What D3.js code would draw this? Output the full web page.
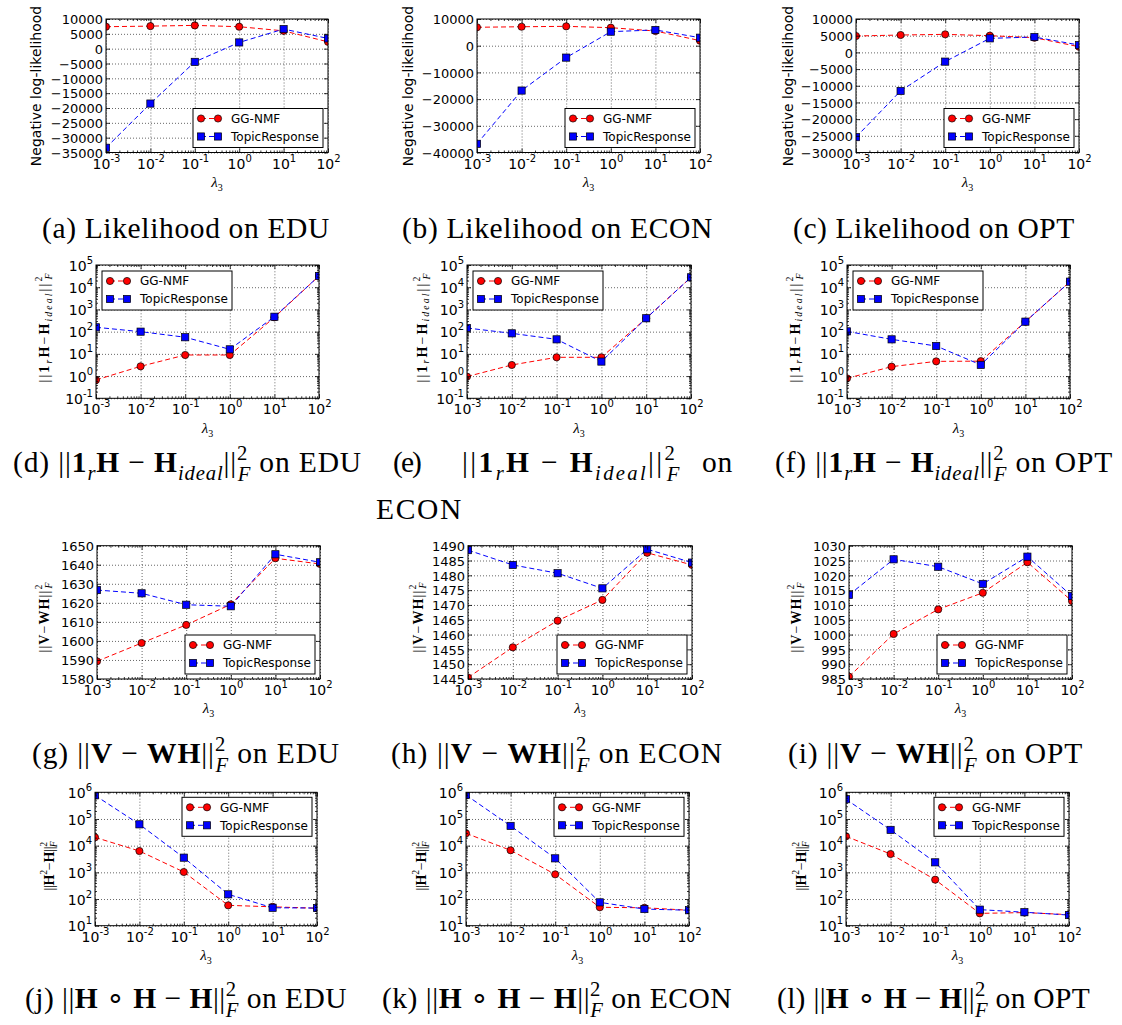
<!DOCTYPE html>
<html><head><meta charset="utf-8">
<script src="https://cdn.jsdelivr.net/npm/d3@7"></script>
<style>body{margin:0;background:#fff}svg{display:block}text{white-space:pre}</style>
</head><body>
<svg id="fig" width="1122" height="1025"></svg>
<script>
// ---------------- DATA ----------------
const lambdas = [0.001, 0.01, 0.1, 1, 10, 100];
const xTickExps = [-3, -2, -1, 0, 1, 2];
const seriesNames = ["GG-NMF", "TopicResponse"];

// Negative log-likelihood
const likeEDU_GG  = [7400, 7600, 7850, 7400, 6000, 2300];
const likeEDU_TR  = [-33400, -18500, -4450, 2100, 6600, 3450];
const likeECON_GG = [6900, 7100, 7250, 6750, 5500, 1900];
const likeECON_TR = [-36750, -16800, -4460, 5260, 5900, 3000];
const likeOPT_GG  = [4900, 5200, 5400, 5000, 4400, 1700];
const likeOPT_TR  = [-25400, -11550, -2770, 4200, 4600, 2200];

// ||1_r H - H_ideal||_F^2
const idealEDU_GG  = [0.67, 2.75, 8.9, 8.9, 440, 32000];
const idealEDU_TR  = [157, 100, 56, 16, 470, 32000];
const idealECON_GG = [0.95, 3.16, 7, 7, 400, 27900];
const idealECON_TR = [146, 84, 45, 4.5, 400, 27900];
const idealOPT_GG  = [0.79, 2.66, 4.6, 4.7, 282, 17800];
const idealOPT_TR  = [103, 45, 22.6, 3.2, 282, 17800];

// ||V - WH||_F^2
const vwhEDU_GG  = [1589.3, 1598.9, 1608.4, 1619.2, 1643.4, 1640.4];
const vwhEDU_TR  = [1626.7, 1625.0, 1619.0, 1618.2, 1645.5, 1641.3];
const vwhECON_GG = [1445.5, 1455.7, 1464.7, 1471.7, 1487.6, 1483.5];
const vwhECON_TR = [1488.5, 1483.5, 1480.7, 1475.6, 1488.8, 1484.3];
const vwhOPT_GG  = [985.8, 1000.2, 1008.5, 1014.1, 1024.4, 1011.3];
const vwhOPT_TR  = [1013.4, 1025.4, 1022.9, 1017.1, 1026.3, 1013.0];

// ||H o H - H||_F^2
const hhEDU_GG  = [20500, 6300, 1030, 58, 51, 45];
const hhEDU_TR  = [770000, 63000, 3550, 150, 47, 46];
const hhECON_GG = [29000, 6700, 840, 49, 47, 38];
const hhECON_TR = [790000, 55000, 3350, 75, 42, 38];
const hhOPT_GG  = [22400, 4850, 530, 29, 31, 26];
const hhOPT_TR  = [550000, 39000, 2370, 40, 32, 25];

// y tick labels
const likeEDU_yTicks  = [-35000, -30000, -25000, -20000, -15000, -10000, -5000, 0, 5000, 10000];
const likeECON_yTicks = [-40000, -30000, -20000, -10000, 0, 10000];
const likeOPT_yTicks  = [-30000, -25000, -20000, -15000, -10000, -5000, 0, 5000, 10000];
const ideal_yExps     = [-1, 0, 1, 2, 3, 4, 5];
const vwhEDU_yTicks   = [1580, 1590, 1600, 1610, 1620, 1630, 1640, 1650];
const vwhECON_yTicks  = [1445, 1450, 1455, 1460, 1465, 1470, 1475, 1480, 1485, 1490];
const vwhOPT_yTicks   = [985, 990, 995, 1000, 1005, 1010, 1015, 1020, 1025, 1030];
const hh_yExps        = [1, 2, 3, 4, 5, 6];

// math text pieces
const idealExpr = [["||","n"],["1","b"],["r","sub"],["H","b"],[" \u2212 ","n"],["H","b"],["ideal","sub"],["||","n"],["2","sup"],["F","stack"]];
const vwhExpr   = [["||","n"],["V","b"],[" \u2212 ","n"],["W","b"],["H","b"],["||","n"],["2","sup"],["F","stack"]];
const hhExpr    = [["||","n"],["H","b"],[" \u2218 ","n"],["H","b"],[" \u2212 ","n"],["H","b"],["||","n"],["2","sup"],["F","stack"]];
const idealY = [["||","n"],["1","b"],["r","sub"],["H","b"],["\u2212","n"],["H","b"],["ideal","sub"],["||","n"],["2","sup"],["F","stack"]];
const vwhY   = [["||","n"],["V","b"],["\u2212","n"],["W","b"],["H","b"],["||","n"],["2","sup"],["F","stack"]];
const hhY    = [["||","n"],["H","b"],["2","sup"],["\u2212","n"],["H","b"],["||","n"],["2","sup"],["F","stack"]];

// ---------------- STYLE / LAYOUT ----------------
const SANS = "'DejaVu Sans', sans-serif";
const SERIF = "'Liberation Serif', 'Times New Roman', serif";
const svg = d3.select('#fig');

function renderMath(t, segs, fs) {
  let level = 0;
  segs.forEach(([s, k]) => {
    const ts = t.append('tspan').text(s);
    let target = 0, size = fs, dx = 0;
    if (k === 'b') ts.attr('font-weight', 'bold');
    else if (k === 'i') ts.attr('font-style', 'italic');
    else if (k === 'sub') { target = 0.28 * fs; size = 0.7 * fs; ts.attr('font-style', 'italic'); }
    else if (k === 'sup') { target = -0.42 * fs; size = 0.7 * fs; }
    else if (k === 'stack') { target = 0.32 * fs; size = 0.7 * fs; dx = -0.36 * fs; ts.attr('font-style', 'italic'); }
    ts.attr('font-size', size);
    if (target - level !== 0) ts.attr('dy', target - level);
    if (dx) ts.attr('dx', dx);
    level = target;
  });
}
function fitWidth(t, target) {
  const n = t.text().length;
  const w = t.node().getBBox().width;
  t.attr('letter-spacing', (target - w) / n);
}

const panels = [
  {id:'a', x0:106, x1:328, y0:19, y1:152.5, log:false, domain:[-35000,10000], yTicks:likeEDU_yTicks, gg:likeEDU_GG, tr:likeEDU_TR, yl:'nll', ylx:36, yly:86, leg:'lr'},
  {id:'b', x0:477, x1:700, y0:19, y1:152.5, log:false, domain:[-40000,10000], yTicks:likeECON_yTicks, gg:likeECON_GG, tr:likeECON_TR, yl:'nll', ylx:407.5, yly:86, leg:'lr'},
  {id:'c', x0:856, x1:1079, y0:19, y1:152.5, log:false, domain:[-30000,10000], yTicks:likeOPT_yTicks, gg:likeOPT_GG, tr:likeOPT_TR, yl:'nll', ylx:787.5, yly:86, leg:'lr'},
  {id:'d', x0:96, x1:319, y0:265, y1:398.3, log:true, domain:[0.1,1e5], yExps:ideal_yExps, gg:idealEDU_GG, tr:idealEDU_TR, yl:idealY, ylLen:112, ylx:44, yly:327, leg:'ul'},
  {id:'e', x0:467, x1:691, y0:265, y1:398.3, log:true, domain:[0.1,1e5], yExps:ideal_yExps, gg:idealECON_GG, tr:idealECON_TR, yl:idealY, ylLen:112, ylx:421.5, yly:327, leg:'ul'},
  {id:'f', x0:847, x1:1070, y0:265, y1:398.3, log:true, domain:[0.1,1e5], yExps:ideal_yExps, gg:idealOPT_GG, tr:idealOPT_TR, yl:idealY, ylLen:112, ylx:794.5, yly:327, leg:'ul'},
  {id:'g', x0:97, x1:320, y0:545.7, y1:679, log:false, domain:[1580,1650], yTicks:vwhEDU_yTicks, gg:vwhEDU_GG, tr:vwhEDU_TR, yl:vwhY, ylLen:72, ylx:44, yly:617, leg:'lr'},
  {id:'h', x0:468, x1:692, y0:545.7, y1:679, log:false, domain:[1445,1490], yTicks:vwhECON_yTicks, gg:vwhECON_GG, tr:vwhECON_TR, yl:vwhY, ylLen:72, ylx:417.5, yly:617, leg:'lr'},
  {id:'i', x0:849, x1:1072, y0:545.7, y1:679, log:false, domain:[985,1030], yTicks:vwhOPT_yTicks, gg:vwhOPT_GG, tr:vwhOPT_TR, yl:vwhY, ylLen:72, ylx:796, yly:617, leg:'lr'},
  {id:'j', x0:95, x1:317, y0:792.3, y1:925.7, log:true, domain:[10,1e6], yExps:hh_yExps, gg:hhEDU_GG, tr:hhEDU_TR, yl:hhY, ylLen:50, ylx:49, yly:866, leg:'ur'},
  {id:'k', x0:466, x1:689, y0:792.3, y1:925.7, log:true, domain:[10,1e6], yExps:hh_yExps, gg:hhECON_GG, tr:hhECON_TR, yl:hhY, ylLen:50, ylx:421, yly:866, leg:'ur'},
  {id:'l', x0:846, x1:1069, y0:792.3, y1:925.7, log:true, domain:[10,1e6], yExps:hh_yExps, gg:hhOPT_GG, tr:hhOPT_TR, yl:hhY, ylLen:50, ylx:801, yly:866, leg:'ur'}
];

const captions = [
  {x:42, y:238, w:288, segs:[["(a) Likelihood on EDU","n"]]},
  {x:402, y:238, w:311, segs:[["(b) Likelihood on ECON","n"]]},
  {x:793, y:238, w:282, segs:[["(c) Likelihood on OPT","n"]]},
  {x:13, y:472, w:349, segs:[["(d) ","n"], ...idealExpr, [" on EDU","n"]]},
  {x:393, y:472, w:27, segs:[["(e)","n"]]},
  {x:462, y:472, w:220, segs:idealExpr},
  {x:702, y:472, w:31, segs:[["on","n"]]},
  {x:376, y:519, w:87, segs:[["ECON","n"]]},
  {x:775, y:472, w:338, segs:[["(f) ","n"], ...idealExpr, [" on OPT","n"]]},
  {x:32, y:763, w:308, segs:[["(g) ","n"], ...vwhExpr, [" on EDU","n"]]},
  {x:391, y:763, w:332, segs:[["(h) ","n"], ...vwhExpr, [" on ECON","n"]]},
  {x:788, y:763, w:295, segs:[["(i) ","n"], ...vwhExpr, [" on OPT","n"]]},
  {x:25, y:1008, w:322, segs:[["(j) ","n"], ...hhExpr, [" on EDU","n"]]},
  {x:382, y:1008, w:350, segs:[["(k) ","n"], ...hhExpr, [" on ECON","n"]]},
  {x:777, y:1008, w:313, segs:[["(l) ","n"], ...hhExpr, [" on OPT","n"]]}
];

// ---------------- DRAW ----------------
function marker(sel, kind, color) {
  if (kind === 'circle') {
    sel.append('circle').attr('r', 3.6).attr('fill', color).attr('stroke', '#000').attr('stroke-width', 0.7);
  } else {
    sel.append('rect').attr('x', -3.6).attr('y', -3.6).attr('width', 7.2).attr('height', 7.2)
      .attr('fill', color).attr('stroke', '#000').attr('stroke-width', 0.7);
  }
}

function drawPanel(p) {
  const W = p.x1 - p.x0, H = p.y1 - p.y0;
  const g = svg.append('g').attr('transform', `translate(${p.x0},${p.y0})`);
  const x = d3.scaleLog().domain([1e-3, 1e2]).range([0, W]);
  const y = (p.log ? d3.scaleLog() : d3.scaleLinear()).domain(p.domain).range([H, 0]);
  const xTickVals = xTickExps.map(e => Math.pow(10, e));
  const yTickVals = p.log ? p.yExps.map(e => Math.pow(10, e)) : p.yTicks;
  const xMinor = [];
  for (let e = -3; e < 2; e++) for (let k = 2; k < 10; k++) xMinor.push(k * Math.pow(10, e));
  const yMinor = [];
  if (p.log) for (let e = p.yExps[0]; e < p.yExps[p.yExps.length - 1]; e++) for (let k = 2; k < 10; k++) yMinor.push(k * Math.pow(10, e));

  const clean = s => { s.select('.domain').remove(); s.attr('font-family', null).attr('font-size', null); };

  // grid
  g.append('g').attr('transform', `translate(0,${H})`)
    .call(d3.axisBottom(x).tickValues(xTickVals).tickSize(-H).tickFormat(''))
    .call(clean).selectAll('line').attr('stroke', '#000').attr('stroke-width', 0.6).attr('stroke-dasharray', '1,2');
  g.append('g')
    .call(d3.axisLeft(y).tickValues(yTickVals).tickSize(-W).tickFormat(''))
    .call(clean).selectAll('line').attr('stroke', '#000').attr('stroke-width', 0.6).attr('stroke-dasharray', '1,2');

  // series
  const clipId = 'clip-' + p.id;
  g.append('clipPath').attr('id', clipId).append('rect').attr('width', W).attr('height', H);
  const cg = g.append('g').attr('clip-path', `url(#${clipId})`);
  const series = [
    {vals: p.gg, color: '#ff0000', kind: 'circle'},
    {vals: p.tr, color: '#0000ff', kind: 'square'}
  ];
  const line = d3.line().x((d, i) => x(lambdas[i])).y(d => y(d));
  series.forEach(s => {
    cg.append('path').datum(s.vals).attr('d', line).attr('fill', 'none')
      .attr('stroke', s.color).attr('stroke-width', 1).attr('stroke-dasharray', '5,3');
    cg.selectAll(null).data(s.vals).enter().append('g')
      .attr('transform', (d, i) => `translate(${x(lambdas[i])},${y(d)})`)
      .each(function () { marker(d3.select(this), s.kind, s.color); });
  });

  // ticks (inward, all four sides)
  const tickStyle = s => s.selectAll('line').attr('stroke', '#000').attr('stroke-width', 0.8);
  const bottom = g.append('g').attr('transform', `translate(0,${H})`)
    .call(d3.axisBottom(x).tickValues(xTickVals).tickSize(-4).tickPadding(0)).call(clean).call(tickStyle);
  g.append('g').attr('transform', `translate(0,${H})`)
    .call(d3.axisBottom(x).tickValues(xMinor).tickSize(-2).tickFormat('')).call(clean).call(tickStyle);
  g.append('g').call(d3.axisTop(x).tickValues(xTickVals).tickSize(-4).tickFormat('')).call(clean).call(tickStyle);
  g.append('g').call(d3.axisTop(x).tickValues(xMinor).tickSize(-2).tickFormat('')).call(clean).call(tickStyle);
  const left = g.append('g')
    .call(d3.axisLeft(y).tickValues(yTickVals).tickSize(-4).tickPadding(3)
      .tickFormat(d => d < 0 ? '\u2212' + (-d) : String(d))).call(clean).call(tickStyle);
  g.append('g').attr('transform', `translate(${W},0)`)
    .call(d3.axisRight(y).tickValues(yTickVals).tickSize(-4).tickFormat('')).call(clean).call(tickStyle);
  if (p.log) {
    g.append('g').call(d3.axisLeft(y).tickValues(yMinor).tickSize(-2).tickFormat('')).call(clean).call(tickStyle);
    g.append('g').attr('transform', `translate(${W},0)`)
      .call(d3.axisRight(y).tickValues(yMinor).tickSize(-2).tickFormat('')).call(clean).call(tickStyle);
  }

  // x tick labels 10^e
  bottom.selectAll('.tick text').each(function (d) {
    const e = Math.round(Math.log10(d));
    const t = d3.select(this);
    t.text(null).attr('y', 16).attr('dy', null).attr('fill', '#000')
      .attr('font-family', SANS).attr('font-size', 14).attr('text-anchor', 'middle');
    t.append('tspan').text('10');
    t.append('tspan').text(String(e)).attr('font-size', 10).attr('dy', -7);
  });
  // y tick labels
  left.selectAll('.tick text').each(function (d) {
    const t = d3.select(this).attr('fill', '#000').attr('font-family', SANS).attr('text-anchor', 'end');
    if (p.log) {
      const e = Math.round(Math.log10(d));
      t.text(null).attr('font-size', 14).attr('dy', '0.36em').attr('x', -3);
      t.append('tspan').text('10');
      t.append('tspan').text(String(e)).attr('font-size', 10).attr('dy', -7);
    } else {
      t.attr('font-size', 13).attr('dy', '0.36em');
    }
  });

  // frame
  g.append('rect').attr('width', W).attr('height', H).attr('fill', 'none').attr('stroke', '#000').attr('stroke-width', 1);

  // x label
  const xl = g.append('text').attr('x', W / 2).attr('y', H + 34.5).attr('text-anchor', 'middle')
    .attr('font-family', SERIF).attr('font-size', 15);
  xl.append('tspan').text('\u03bb').attr('font-style', 'italic');
  xl.append('tspan').text('3').attr('font-size', 10).attr('dy', 4);

  // y label
  const yl = svg.append('text').attr('transform', `translate(${p.ylx},${p.yly}) rotate(-90)`)
    .attr('text-anchor', 'middle').attr('dominant-baseline', 'central');
  if (p.yl === 'nll') {
    yl.attr('font-family', SANS).attr('font-size', 14).text('Negative log-likelihood');
  } else {
    yl.attr('font-family', SERIF).attr('font-size', 14);
    renderMath(yl, p.yl, 14);
    if (p.ylLen) fitWidth(yl, p.ylLen);
  }

  // legend
  const lw = 130, lh = 39;
  let lx, ly;
  if (p.leg === 'lr') { lx = W - 5 - lw; ly = H - 5 - lh; }
  else if (p.leg === 'ul') { lx = 6; ly = 6; }
  else { lx = W - 5 - lw; ly = 5; }
  const lg = g.append('g').attr('transform', `translate(${lx},${ly})`);
  lg.append('rect').attr('width', lw).attr('height', lh).attr('fill', '#fff').attr('stroke', '#000').attr('stroke-width', 1);
  series.forEach((s, i) => {
    const ry = 10 + i * 18;
    lg.append('line').attr('x1', 8).attr('x2', 25).attr('y1', ry).attr('y2', ry)
      .attr('stroke', s.color).attr('stroke-width', 1).attr('stroke-dasharray', '5,3');
    [8, 25].forEach(mx => marker(lg.append('g').attr('transform', `translate(${mx},${ry})`), s.kind, s.color));
    lg.append('text').attr('x', 38).attr('y', ry).attr('dy', '0.36em')
      .attr('font-family', SANS).attr('font-size', 12).attr('fill', '#000').text(seriesNames[i]);
  });
}

panels.forEach(drawPanel);

captions.forEach(c => {
  const t = svg.append('text').attr('x', c.x).attr('y', c.y)
    .attr('font-family', SERIF).attr('font-size', 29.5).attr('fill', '#000');
  renderMath(t, c.segs, 29.5);
  fitWidth(t, c.w);
});
</script>
</body></html>
